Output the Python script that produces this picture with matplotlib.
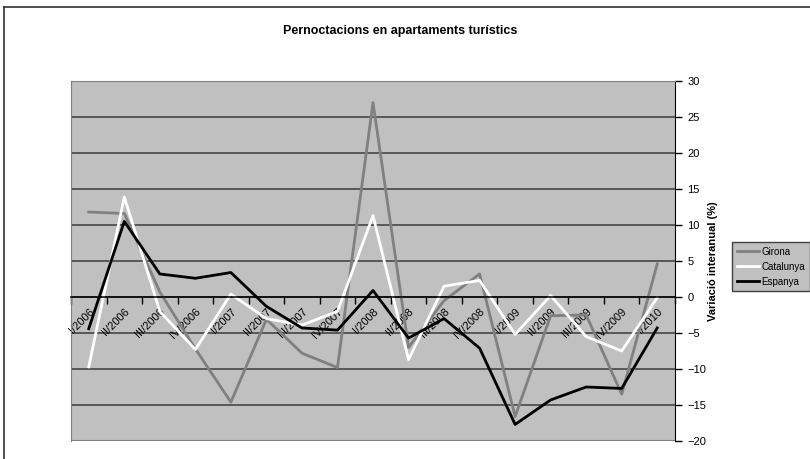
import matplotlib
matplotlib.use("Agg")
import matplotlib.pyplot as plt
from matplotlib.lines import Line2D
import numpy as np

plt.rcParams["font.family"] = ["Liberation Sans", "DejaVu Sans"]

quarters = ["I/2006", "II/2006", "III/2006", "IV/2006",
            "I/2007", "II/2007", "III/2007", "IV/2007",
            "I/2008", "II/2008", "III/2008", "IV/2008",
            "I/2009", "II/2009", "III/2009", "IV/2009", "I/2010"]
girona = [11.8, 11.6, 0.7, -7.2, -14.6, -3.1, -7.8, -9.8, 27.0,
          -7.0, -0.5, 3.2, -16.6, -2.6, -2.5, -13.5, 4.6]
catalunya = [-9.7, 13.9, -2.0, -7.3, 0.4, -3.0, -3.9, -2.0, 11.3,
             -8.7, 1.5, 2.3, -5.2, 0.2, -5.5, -7.5, -0.1]
espanya = [-4.4, 10.5, 3.2, 2.6, 3.4, -1.3, -4.3, -4.6, 0.9,
           -5.7, -3.0, -7.1, -17.7, -14.3, -12.5, -12.7, -4.3]

fig = plt.figure(figsize=(8.1, 4.59), dpi=100)
ax = fig.add_axes([71 / 810, 1 - 441 / 459, 604 / 810, 360 / 459])
ax.set_facecolor("#c0c0c0")

# lines sit under the axis (zorder 2.5) so the quarter labels stay readable
x = np.arange(len(quarters))
ax.plot(x, girona, color="#808080", lw=2, label="Girona", zorder=2.1)
ax.plot(x, catalunya, color="white", lw=2, label="Catalunya", zorder=2.2)
ax.plot(x, espanya, color="black", lw=2, label="Espanya", zorder=2.3)

ax.set_xlim(-0.5, len(quarters) - 0.5)
ax.set_ylim(-20, 30)

# y axis on the right
ax.yaxis.tick_right()
ax.yaxis.set_label_position("right")
ax.set_yticks(range(-20, 31, 5))
ax.tick_params(axis="y", direction="out", length=5, width=1, pad=4,
               labelsize=8, color="black")
ax.set_ylabel("Variació interanual (%)", fontsize=8, fontweight="bold",
              labelpad=1)
for v in range(-15, 31, 5):
    ax.axhline(v, color="#3c3c3c", lw=1.1, zorder=1)

# category axis crossing at zero
ax.spines["bottom"].set_position(("data", 0))
ax.spines["bottom"].set_color("black")
ax.spines["bottom"].set_linewidth(1.1)
ax.spines["right"].set_color("black")
ax.spines["left"].set_color("#808080")
ax.spines["top"].set_color("#808080")
ax.axhline(-20, color="#808080", lw=1.5, zorder=1)
ax.set_xticks(x)
ax.set_xticks(np.arange(-0.5, len(quarters), 1), minor=True)
ax.tick_params(axis="x", which="major", length=0, pad=7, labelsize=8)
ax.tick_params(axis="x", which="minor", length=5, width=1, direction="out",
               color="black")
ax.set_xticklabels(quarters)
plt.setp(ax.get_xticklabels(), rotation=45, ha="right",
         rotation_mode="anchor")

fig.text(400 / 810, 1 - 31 / 459, "Pernoctacions en apartaments turístics",
         ha="center", va="center", fontsize=9, fontweight="bold")

leg = fig.legend(loc="upper left", bbox_to_anchor=(732 / 810, 1 - 242 / 459),
                 fontsize=7, frameon=True, fancybox=False, handlelength=2.3,
                 borderpad=0.5, labelspacing=0.5, handletextpad=0.2,
                 borderaxespad=0)
leg.get_frame().set_facecolor("#c0c0c0")
leg.get_frame().set_edgecolor("#404040")
leg.get_frame().set_alpha(1)

# outer chart frame (left and top edges visible)
fig.add_artist(Line2D([4 / 810, 4 / 810], [0, 1 - 7 / 459],
                      transform=fig.transFigure, color="#303030", lw=1.2))
fig.add_artist(Line2D([4 / 810, 1], [1 - 7 / 459, 1 - 7 / 459],
                      transform=fig.transFigure, color="#303030", lw=1.2))

fig.savefig("out.png", dpi=100)
